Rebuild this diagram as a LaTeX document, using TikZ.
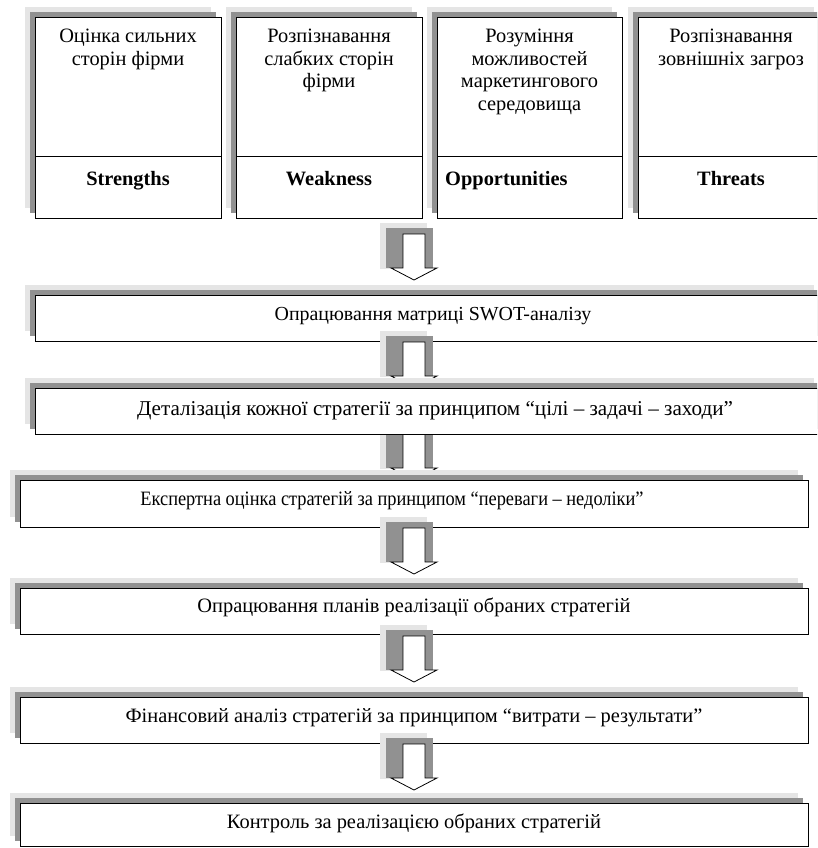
\documentclass[tikz,border=0pt]{standalone}
\usepackage{graphicx}
\usepackage{fontspec}
\setmainfont{Liberation Serif}
\usetikzlibrary{fit}
\newcommand\flowbox[5]{%
  \fill[lg] (#2-10,#3-10) rectangle (#4-10,#5-10);
  \fill[dg] (#2-5,#3-5) rectangle (#4-5,#5-5);
  \node[box, fit={(#2,#3) (#4,#5)}] (#1) {};}
\newcommand\blockarrow[2]{%
  \fill[lg] (380,#2-45) rectangle (427,#2+1);
  \fill[dg] (386,#2-40) rectangle (433,#2);
  \draw[arr] (403,#2-34) coordinate (#1) -- (425,#2-34) -- (425,#2) -- (437,#2) -- (414,#2+12) -- (391,#2) -- (403,#2) -- cycle;}
\begin{document}
\begin{tikzpicture}[x=1pt,y=-1pt,
  lg/.style={fill=black!10},
  dg/.style={fill=black!43},
  box/.style={draw=black, line width=0.9pt, fill=white, inner sep=0pt, outer sep=0pt},
  txt/.style={font=\fontsize{20.4}{22.5}\selectfont, inner sep=0pt},
  btxt/.style={font=\fontsize{20.4}{22.5}\selectfont\bfseries, inner sep=0pt},
  arr/.style={draw=black, line width=0.8pt, fill=white, line join=miter}]
\clip (0,0) rectangle (817,848);
\fill[white] (0,0) rectangle (817,848);
% top row
\flowbox{b1}{35}{17}{221}{218}
\flowbox{b2}{236}{17}{422}{218}
\flowbox{b3}{437}{17}{622}{218}
\flowbox{b4}{638}{17}{824}{218}
\foreach \b in {b1,b2,b3,b4}{\draw[line width=0.9pt] (\b.west |- 0,156) -- (\b.east |- 0,156);}
\node[txt, align=center, anchor=north] at (b1.north |- 0,29) {Оцінка сильних\\сторін фірми};
\node[txt, align=center, anchor=north] at (b2.north |- 0,29) {Розпізнавання\\слабких сторін\\фірми};
\node[txt, align=center, anchor=north] at (b3.north |- 0,29) {Розуміння\\можливостей\\маркетингового\\середовища};
\node[txt, align=center, anchor=north] at (b4.north |- 0,29) {Розпізнавання\\зовнішніх загроз};
\node[btxt, anchor=base] at (b1.south |- 0,185) {Strengths};
\node[btxt, anchor=base] at (b2.south |- 0,185) {Weakness};
\node[btxt, anchor=base west] at (445,185) {Opportunities};
\node[btxt, anchor=base] at (b4.south |- 0,185) {Threats};
% flow
\blockarrow{ar1}{268}
\flowbox{A}{35}{295}{824}{341}
\node[txt, font=\fontsize{19.9}{22}\selectfont, anchor=base] at (433,320) {Опрацювання матриці SWOT-аналізу};
\blockarrow{ar2}{376}
\blockarrow{ar3}{468}
\flowbox{B}{35}{388}{824}{434}
\node[txt, font=\fontsize{21.1}{23}\selectfont, anchor=base] at (435,415) {Деталізація кожної стратегії за принципом “цілі – задачі – заходи”};
\flowbox{C}{20}{480}{808}{527}
\node[txt, anchor=base] at (392,505) {\scalebox{0.9}[1]{Експертна оцінка стратегій за принципом “переваги – недоліки”}};
\blockarrow{ar4}{562}
\flowbox{D}{20}{588}{808}{634}
\node[txt, anchor=base] at (D.center |- 0,612) {Опрацювання планів реалізації обраних стратегій};
\blockarrow{ar5}{670}
\flowbox{E}{20}{697}{808}{743}
\node[txt, anchor=base] at (E.center |- 0,722) {Фінансовий аналіз стратегій за принципом “витрати – результати”};
\blockarrow{ar6}{778}
\flowbox{F}{20}{803}{808}{846}
\node[txt, anchor=base] at (F.center |- 0,828) {Контроль за реалізацією обраних стратегій};
\end{tikzpicture}
\end{document}
